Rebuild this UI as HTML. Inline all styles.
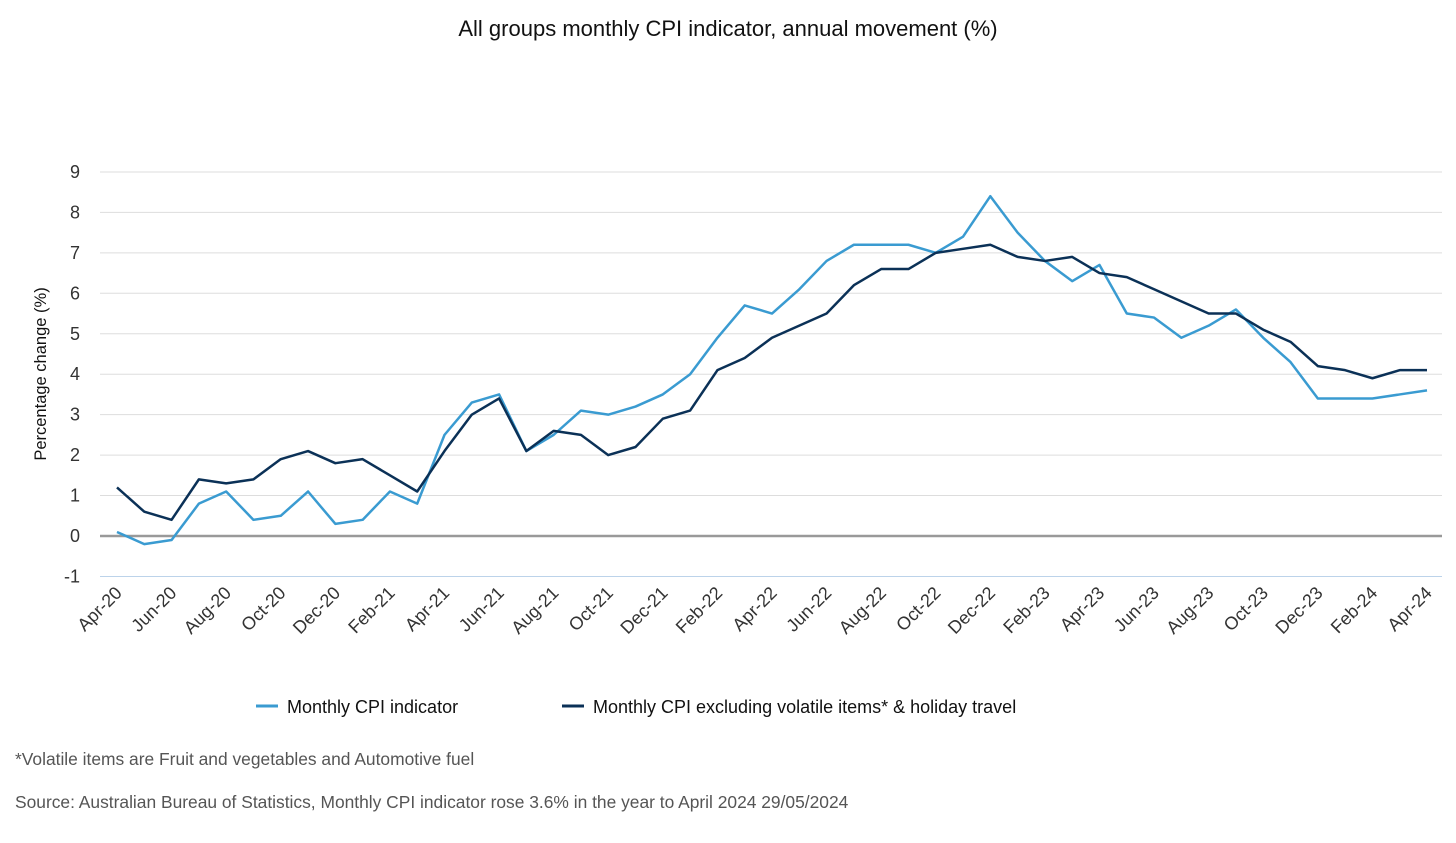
<!DOCTYPE html>
<html><head><meta charset="utf-8"><style>
body{margin:0;background:#fff;width:1456px;height:838px;overflow:hidden;font-family:"Liberation Sans",sans-serif}
</style></head><body>
<svg id="chart" width="1456" height="838" xmlns="http://www.w3.org/2000/svg" font-family="Liberation Sans, sans-serif">
<text x="728" y="36" text-anchor="middle" font-size="22" fill="#111">All groups monthly CPI indicator, annual movement (%)</text>
<text transform="translate(46,374) rotate(-90)" text-anchor="middle" font-size="16.5" fill="#111">Percentage change (%)</text>
<g id="grid"></g><g id="yticks"></g><g id="xticks"></g><g id="lines"></g>
<g>
<line x1="256" y1="706" x2="278" y2="706" stroke="#3a9bd1" stroke-width="3"/>
<text x="287" y="713" font-size="18" fill="#111">Monthly CPI indicator</text>
<line x1="562" y1="706" x2="584" y2="706" stroke="#0b3157" stroke-width="3"/>
<text x="593" y="713" font-size="18" fill="#111">Monthly CPI excluding volatile items* &amp; holiday travel</text>
</g>
<text x="15" y="765" font-size="17.4" fill="#555">*Volatile items are Fruit and vegetables and Automotive fuel</text>
<text x="15" y="808" font-size="17.4" fill="#555">Source: Australian Bureau of Statistics, Monthly CPI indicator rose 3.6% in the year to April 2024 29/05/2024</text>
</svg>
<script>
const months=["Apr-20","May-20","Jun-20","Jul-20","Aug-20","Sep-20","Oct-20","Nov-20","Dec-20","Jan-21","Feb-21","Mar-21","Apr-21","May-21","Jun-21","Jul-21","Aug-21","Sep-21","Oct-21","Nov-21","Dec-21","Jan-22","Feb-22","Mar-22","Apr-22","May-22","Jun-22","Jul-22","Aug-22","Sep-22","Oct-22","Nov-22","Dec-22","Jan-23","Feb-23","Mar-23","Apr-23","May-23","Jun-23","Jul-23","Aug-23","Sep-23","Oct-23","Nov-23","Dec-23","Jan-24","Feb-24","Mar-24","Apr-24"];
const cpi=[0.1,-0.2,-0.1,0.8,1.1,0.4,0.5,1.1,0.3,0.4,1.1,0.8,2.5,3.3,3.5,2.1,2.5,3.1,3.0,3.2,3.5,4.0,4.9,5.7,5.5,6.1,6.8,7.2,7.2,7.2,7.0,7.4,8.4,7.5,6.8,6.3,6.7,5.5,5.4,4.9,5.2,5.6,4.9,4.3,3.4,3.4,3.4,3.5,3.6];
const cpiExcl=[1.2,0.6,0.4,1.4,1.3,1.4,1.9,2.1,1.8,1.9,1.5,1.1,2.1,3.0,3.4,2.1,2.6,2.5,2.0,2.2,2.9,3.1,4.1,4.4,4.9,5.2,5.5,6.2,6.6,6.6,7.0,7.1,7.2,6.9,6.8,6.9,6.5,6.4,6.1,5.8,5.5,5.5,5.1,4.8,4.2,4.1,3.9,4.1,4.1];
const yTicks=[-1,0,1,2,3,4,5,6,7,8,9];
const NS="http://www.w3.org/2000/svg";
const x0=117,x1=1427,yZero=536,yUnit=40.45;
const xs=i=>x0+i*(x1-x0)/(months.length-1);
const ys=v=>yZero-v*yUnit;
function mk(t,a,p){const e=document.createElementNS(NS,t);for(const k in a)e.setAttribute(k,a[k]);p.appendChild(e);return e;}
const grid=document.getElementById('grid'),yt=document.getElementById('yticks'),xt=document.getElementById('xticks'),lg=document.getElementById('lines');
yTicks.forEach(v=>{
 const l=mk('line',{x1:100,x2:1442,y1:ys(v),y2:ys(v),stroke:v===0?'#999':(v===-1?'#bcd3ea':'#ddd'),'stroke-width':v===0?2.5:1},grid);
 
 
 const t=mk('text',{x:80,y:ys(v)+6,'text-anchor':'end','font-size':18,fill:'#333'},yt);
 t.textContent=v;
 
 
});
months.forEach((m,i)=>{
 if(i%2)return;
 const t=mk('text',{transform:`translate(${xs(i)+6},${594}) rotate(-45)`,'text-anchor':'end','font-size':18,fill:'#333'},xt);
 t.textContent=m;
 
 
});
function line(data,color,name){
 const p=mk('polyline',{points:data.map((v,i)=>xs(i)+','+ys(v)).join(' '),fill:'none',stroke:color,'stroke-width':2.5,'stroke-linejoin':'round'},lg);
 
 
}
line(cpi,'#3a9bd1','cpi-line');
line(cpiExcl,'#0b3157','cpi-excl-line');
</script>
</body></html>
